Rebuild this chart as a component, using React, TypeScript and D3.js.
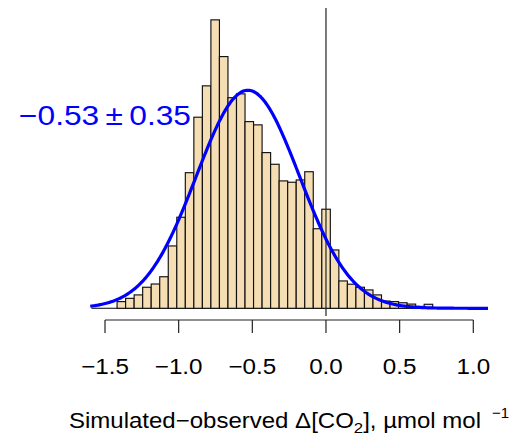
import React from "react";
import * as d3 from "d3";

// Histogram (density) of simulated − observed Δ[CO2]
const histStart = -1.418; // left edge of first non-empty bin
const binWidth = 0.0579;
const density = [
  0.035, 0.052, 0.07, 0.11, 0.127, 0.165, 0.326, 0.476, 0.709, 0.999, 1.163,
  1.508, 1.316, 1.101, 1.121, 0.976, 0.959, 0.814, 0.753, 0.666, 0.659, 0.671,
  0.714, 0.416, 0.518, 0.305, 0.143, 0.126, 0.11, 0.096, 0.07, 0.038, 0.035,
  0.029, 0.022, 0.01, 0.021,
];
const histRange = [-1.592, 1.07];
const fitMean = -0.53;
const fitSd = 0.35;
const curveRange = [-1.6, 1.1];
const xTicks = [-1.5, -1.0, -0.5, 0.0, 0.5, 1.0];
const annotation = "\u22120.53\u2009\u00b1\u20090.35";

const FONT = "'Liberation Sans', Arial, Helvetica, sans-serif";

export default function App() {
  const x = d3.scaleLinear().domain([-1.5, 1.0]).range([105, 473.3]);
  const y = d3.scaleLinear().domain([0, 1.57]).range([308.3, 8]);

  const bars = density.map((d, i) => {
    const x0 = histStart + i * binWidth;
    return { x0, x1: x0 + binWidth, d };
  });

  const pts = d3.range(0, 401).map((i) => {
    const v = curveRange[0] + ((curveRange[1] - curveRange[0]) * i) / 400;
    const dens =
      Math.exp(-0.5 * ((v - fitMean) / fitSd) ** 2) /
      (fitSd * Math.sqrt(2 * Math.PI));
    return [v, dens] as [number, number];
  });
  const line = d3
    .line<[number, number]>()
    .x((p) => x(p[0]))
    .y((p) => y(p[1]));

  const fmt = (t: number) => (t < 0 ? "\u2212" : "") + Math.abs(t).toFixed(1);

  return (
    <svg
      width={510}
      height={438}
      style={{ position: "absolute", left: 0, top: 0, background: "#fff" }}
    >
      <line
        x1={x(histRange[0])}
        x2={x(histRange[1])}
        y1={y(0)}
        y2={y(0)}
        stroke="#000"
        strokeWidth={1.1}
      />
      {bars.map((b, i) => (
        <rect
          key={i}
          x={x(b.x0)}
          y={y(b.d)}
          width={x(b.x1) - x(b.x0)}
          height={y(0) - y(b.d)}
          fill="#F5DEB3"
          stroke="#111"
          strokeWidth={1.15}
        />
      ))}
      <line x1={x(0)} x2={x(0)} y1={8} y2={316} stroke="#222" strokeWidth={1.2} />
      <path d={line(pts) || ""} fill="none" stroke="#0000FF" strokeWidth={3.2} />

      {/* x axis */}
      <line x1={x(-1.5)} x2={x(1.0)} y1={320} y2={320} stroke="#222" strokeWidth={1.2} />
      {xTicks.map((t) => (
        <g key={t}>
          <line x1={x(t)} x2={x(t)} y1={320} y2={333} stroke="#222" strokeWidth={1.2} />
          <text
            transform={`translate(${x(t)},374) scale(1.1,1)`}
            textAnchor="middle"
            fontFamily={FONT}
            fontSize={22}
            fill="#000"
          >
            {fmt(t)}
          </text>
        </g>
      ))}

      {/* annotation */}
      <text
        x={19}
        y={125}
        fontFamily={FONT}
        fontSize={27}
        fill="#0000FF"
        textLength={172}
        lengthAdjust="spacingAndGlyphs"
      >
        {annotation}
      </text>

      {/* x label */}
      <text
        x={69}
        y={428}
        fontFamily={FONT}
        fontSize={21.5}
        fill="#000"
        textLength={412}
        lengthAdjust="spacingAndGlyphs"
      >
        Simulated{"\u2212"}observed {"\u0394"}[CO
        <tspan fontSize={15} dy={5}>2</tspan>
        <tspan dy={-5}>], {"\u00b5"}mol mol</tspan>
      </text>
      <text x={492} y={418} fontFamily={FONT} fontSize={15} fill="#000">
        {"\u2212"}1
      </text>
    </svg>
  );
}
